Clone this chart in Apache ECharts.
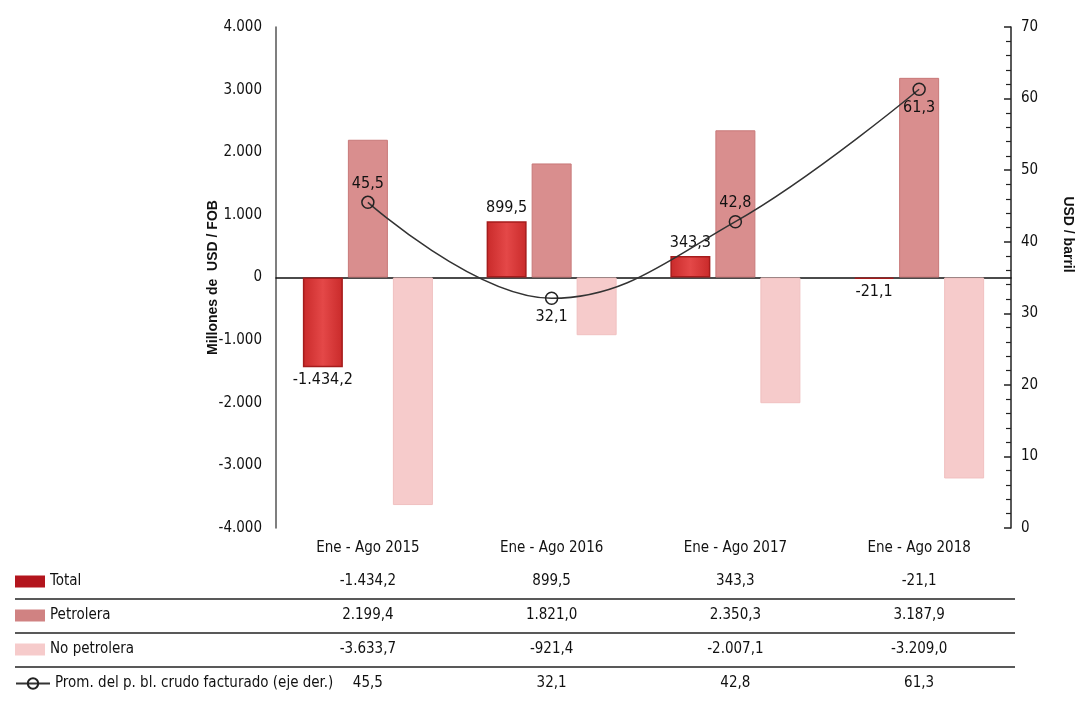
<!DOCTYPE html>
<html>
<head>
<meta charset="utf-8">
<script src="https://cdn.jsdelivr.net/npm/echarts@6/dist/echarts.min.js"></script>
<style>
  html, body { margin: 0; padding: 0; background: #fff; }
  #chart { width: 1083px; height: 717px; }
</style>
</head>
<body>
<div id="chart"></div>
<script>
// datos del gráfico
var categories = ['Ene - Ago 2015', 'Ene - Ago 2016', 'Ene - Ago 2017', 'Ene - Ago 2018'];
var total = [-1434.2, 899.5, 343.3, -21.1];
var petrolera = [2199.4, 1821.0, 2350.3, 3187.9];
var noPetrolera = [-3633.7, -921.4, -2007.1, -3209.0];
var precioCrudo = [45.5, 32.1, 42.8, 61.3];
var leftTicks = { min: -4000, max: 4000, interval: 1000 };
var rightTicks = { min: 0, max: 70, interval: 10 };

var NARROW = "'Liberation Sans Narrow', 'DejaVu Sans Condensed', 'Arial Narrow', sans-serif";
var TXT = '#111';

// formato europeo: 1.434,2
function fmt(v, d) {
    var parts = Math.abs(v).toFixed(d).split('.');
    var ent = parts[0].replace(/\B(?=(\d{3})+(?!\d))/g, '.');
    return (v < 0 ? '-' : '') + ent + (d ? ',' + parts[1] : '');
}

var names = ['Total', 'Petrolera', 'No petrolera', 'Prom. del p. bl. crudo facturado (eje der.)'];
var swatches = ['#b3151d', '#d08282', '#f6cbcb'];
var rows = [
    total.map(function (v) { return fmt(v, 1) }),
    petrolera.map(function (v) { return fmt(v, 1) }),
    noPetrolera.map(function (v) { return fmt(v, 1) }),
    precioCrudo.map(function (v) { return fmt(v, 1) })
];

var gridBottomY = 528;
var rowCenters = [582, 616, 650, 684];

// ejes x de la tabla
var tableAxes = [{
    type: 'category', data: categories, position: 'bottom', gridIndex: 0,
    axisLine: { show: false, onZero: false }, axisTick: { show: false },
    axisLabel: { interval: 0, margin: 549 - gridBottomY - 8, fontSize: 15, color: TXT, fontFamily: NARROW }
}];
rows.forEach(function (r, i) {
    tableAxes.push({
        type: 'category', data: r, position: 'bottom', gridIndex: 0,
        axisLine: { show: false, onZero: false }, axisTick: { show: false },
        axisLabel: { interval: 0, margin: rowCenters[i] - gridBottomY - 8, fontSize: 15, color: TXT, fontFamily: NARROW }
    });
});

var legendStyle = { fontSize: 15, color: TXT, fontFamily: NARROW };
var legends = names.map(function (n, i) {
    var item = i < 3
        ? { name: n, icon: 'rect', itemStyle: { color: swatches[i], borderWidth: 0 } }
        : { name: n };
    return {
        data: [item], left: 15, top: rowCenters[i] - 8, padding: 0, selectedMode: false,
        itemWidth: i === 3 ? 34 : 30, itemHeight: i === 3 ? 13 : 12, itemGap: 4,
        textStyle: legendStyle
    };
});

var labelStyle = { fontSize: 16, color: TXT, fontFamily: NARROW };

var option = {
    backgroundColor: '#fff',
    animation: false,
    grid: { left: 276, right: 71, top: 27, bottom: 717 - gridBottomY },
    legend: legends,
    xAxis: [{
        type: 'category', data: categories,
        axisLine: { onZero: true, lineStyle: { color: '#111', width: 1.5 } },
        axisTick: { show: false }, axisLabel: { show: false }
    }].concat(tableAxes),
    yAxis: [{
        type: 'value', min: leftTicks.min, max: leftTicks.max, interval: leftTicks.interval,
        name: 'Millones de  USD / FOB', nameLocation: 'middle', nameGap: 56, nameMoveOverlap: false,
        nameTextStyle: { fontSize: 14, fontWeight: 'bold', color: TXT, fontFamily: "'Liberation Sans', Arial, sans-serif" },
        axisLine: { show: true, lineStyle: { color: '#555', width: 1.5 } },
        axisTick: { show: false }, splitLine: { show: false },
        axisLabel: { formatter: function (v) { return fmt(v, 0) }, fontSize: 15, color: TXT, fontFamily: NARROW, margin: 14 }
    }, {
        type: 'value', min: rightTicks.min, max: rightTicks.max, interval: rightTicks.interval, position: 'right',
        name: 'USD / barril', nameLocation: 'middle', nameGap: 50, nameRotate: -90,
        nameTextStyle: { fontSize: 14, fontWeight: 'bold', color: TXT, fontFamily: "'Liberation Sans', Arial, sans-serif", padding: [0, 86, 0, 0] },
        axisLine: { show: true, lineStyle: { color: '#222', width: 1.5 } },
        axisTick: { show: true, inside: true, length: 7, lineStyle: { color: '#222', width: 1.5 } },
        minorTick: { show: true, splitNumber: 5, length: 5, lineStyle: { color: '#222', width: 1.2 } },
        splitLine: { show: false },
        axisLabel: { fontSize: 15, color: TXT, fontFamily: NARROW, margin: 10 }
    }],
    graphic: [599, 633, 667].map(function (y) {
        return { type: 'line', shape: { x1: 15, y1: y, x2: 1015, y2: y }, style: { stroke: '#222', lineWidth: 1.5 } };
    }),
    series: [{
        name: names[0], type: 'bar', barWidth: 40, barGap: '12.5%',
        itemStyle: {
            color: new echarts.graphic.LinearGradient(0, 0, 1, 0, [
                { offset: 0, color: '#c92a2a' }, { offset: 0.5, color: '#e44848' }, { offset: 1, color: '#c92a2a' }
            ]),
            borderColor: '#a51c1c', borderWidth: 1.5
        },
        data: total.map(function (v) {
            return { value: v, label: { show: true, position: v >= 0 ? 'top' : 'bottom', formatter: function (p) { return fmt(p.value, 1) } } };
        }),
        label: labelStyle
    }, {
        name: names[1], type: 'bar', barWidth: 40,
        itemStyle: { color: '#d98e8e', borderColor: '#c87878', borderWidth: 1 },
        data: petrolera
    }, {
        name: names[2], type: 'bar', barWidth: 40,
        itemStyle: { color: '#f6cbcb', borderColor: '#f0c0c0', borderWidth: 1 },
        data: noPetrolera
    }, {
        name: names[3], type: 'line', yAxisIndex: 1, smooth: 0.4, z: 5,
        symbol: 'circle', symbolSize: 12,
        lineStyle: { color: '#333', width: 1.5 },
        itemStyle: { color: 'rgba(255,255,255,0)', borderColor: '#222', borderWidth: 1.5 },
        label: Object.assign({ show: true, formatter: function (p) { return fmt(p.value, 1) } }, labelStyle),
        data: precioCrudo.map(function (v, i) {
            return { value: v, label: { position: i % 2 === 0 ? 'top' : 'bottom', distance: 4 } };
        })
    }]
};

var chart = echarts.init(document.getElementById('chart'));
chart.setOption(option);
</script>
</body>
</html>
